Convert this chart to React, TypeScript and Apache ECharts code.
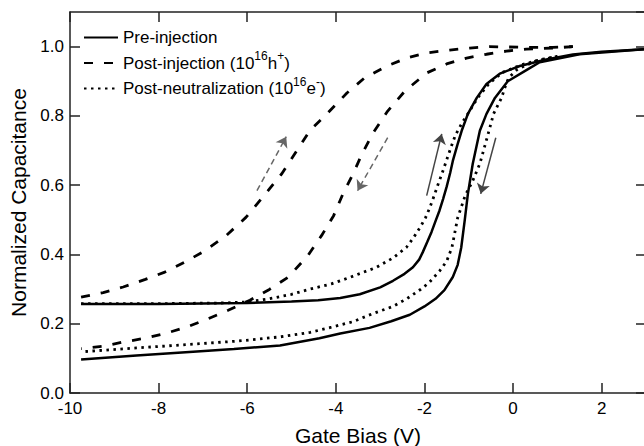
import React, { useEffect, useRef } from 'react';
import * as echarts from 'echarts';

// ---- data ----
const xTicks = { min: -10, max: 3, interval: 2 };
const yTicks = { min: 0, max: 1.1, interval: 0.2 };

const preUp: [number, number][] = [
  [-9.75, 0.257], [-8, 0.257], [-6, 0.26], [-5, 0.264], [-4.4, 0.268], [-3.9, 0.274], [-3.46, 0.285],
  [-3.0, 0.305], [-2.71, 0.324], [-2.45, 0.344], [-2.26, 0.363], [-2.12, 0.385], [-2.04, 0.406],
  [-1.94, 0.435], [-1.84, 0.465], [-1.74, 0.5], [-1.66, 0.527], [-1.58, 0.56], [-1.5, 0.595],
  [-1.42, 0.635], [-1.36, 0.67], [-1.26, 0.715], [-1.16, 0.757], [-1.02, 0.806], [-0.82, 0.852],
  [-0.6, 0.892], [-0.3, 0.922], [0.15, 0.944], [0.75, 0.963], [1.35, 0.977], [2.0, 0.985], [3.0, 0.993],
];
const preDown: [number, number][] = [
  [3.0, 0.993], [1.5, 0.978], [0.6, 0.955], [0.3, 0.932], [-0.12, 0.9], [-0.41, 0.852], [-0.6, 0.806],
  [-0.75, 0.757], [-0.91, 0.662], [-1.02, 0.575], [-1.09, 0.5], [-1.17, 0.42], [-1.25, 0.37],
  [-1.36, 0.335], [-1.55, 0.297], [-1.75, 0.272], [-2.0, 0.25], [-2.33, 0.226], [-2.75, 0.207],
  [-3.24, 0.188], [-3.9, 0.172], [-4.37, 0.158], [-5.26, 0.137], [-6.3, 0.127], [-7.22, 0.119],
  [-8.5, 0.108], [-9.75, 0.097],
];
const postUp: [number, number][] = [
  [-9.75, 0.277], [-9.25, 0.29], [-8.8, 0.306], [-8.3, 0.328], [-7.86, 0.349], [-7.41, 0.378],
  [-6.96, 0.41], [-6.47, 0.455], [-6.03, 0.507], [-5.62, 0.57], [-5.22, 0.633], [-4.93, 0.69],
  [-4.59, 0.757], [-4.2, 0.806], [-3.75, 0.866], [-3.35, 0.91], [-2.85, 0.944], [-2.4, 0.967],
  [-1.95, 0.982], [-1.43, 0.99], [-0.98, 0.996], [-0.53, 1.0], [0.3, 0.998], [0.9, 0.998], [1.35, 1.0],
];
const postDown: [number, number][] = [
  [1.35, 1.0], [0.9, 0.996], [0.3, 0.993], [-0.15, 0.987], [-0.6, 0.978], [-1.05, 0.967], [-1.5, 0.95],
  [-1.95, 0.924], [-2.44, 0.872], [-2.83, 0.814], [-3.16, 0.751], [-3.41, 0.69], [-3.61, 0.633],
  [-3.84, 0.575], [-4.05, 0.512], [-4.32, 0.455], [-4.63, 0.397], [-5.08, 0.334], [-5.5, 0.299],
  [-5.94, 0.268], [-6.43, 0.239], [-6.91, 0.213], [-7.37, 0.19], [-7.82, 0.173], [-8.31, 0.158],
  [-8.8, 0.147], [-9.25, 0.135], [-9.75, 0.128],
];
const neutUp: [number, number][] = [
  [-9.75, 0.258], [-8, 0.258], [-6.5, 0.26], [-6, 0.263], [-5.5, 0.272], [-5, 0.285], [-4.58, 0.3],
  [-4.1, 0.315], [-3.68, 0.334], [-3.08, 0.363], [-2.71, 0.39], [-2.41, 0.42], [-2.25, 0.448],
  [-2.1, 0.478], [-1.98, 0.505], [-1.88, 0.535], [-1.78, 0.57], [-1.7, 0.6], [-1.6, 0.635],
  [-1.52, 0.665], [-1.4, 0.71], [-1.3, 0.745], [-1.15, 0.78], [-1.0, 0.81], [-0.8, 0.852],
  [-0.55, 0.892], [-0.25, 0.925], [0.2, 0.948], [0.6, 0.962], [1.0, 0.972],
];
const neutDown: [number, number][] = [
  [1.0, 0.972], [0.5, 0.958], [0.1, 0.935], [-0.1, 0.91], [-0.19, 0.88], [-0.26, 0.852], [-0.44, 0.806],
  [-0.58, 0.74], [-0.75, 0.662], [-0.92, 0.61], [-1.08, 0.57], [-1.25, 0.506], [-1.38, 0.42],
  [-1.5, 0.38], [-1.66, 0.352], [-1.9, 0.318], [-2.1, 0.298], [-2.4, 0.272], [-2.71, 0.25],
  [-3.17, 0.229], [-3.61, 0.206], [-4.1, 0.19], [-4.58, 0.175], [-5.26, 0.162], [-6.2, 0.15],
  [-7.22, 0.141], [-8.5, 0.13], [-9.75, 0.119],
];
// arrows: [start, end] in data coordinates
const solidArrows: [number, number][][] = [
  [[-1.95, 0.57], [-1.61, 0.748]],
  [[-0.39, 0.737], [-0.73, 0.575]],
];
const dashedArrows: [number, number][][] = [
  [[-5.78, 0.584], [-5.12, 0.74]],
  [[-2.83, 0.737], [-3.51, 0.584]],
];
const names = ['Pre-injection', 'Post-injection', 'Post-neutralization'];
const legendLabels: Record<string, string> = {
  'Pre-injection': '{n|Pre-injection}',
  'Post-injection': '{n|Post-injection (10}{s|16}{n|h}{s|+}{n|)}',
  'Post-neutralization': '{n|Post-neutralization (10}{s|16}{n|e}{s|-}{n|)}',
};

const FONT = '"Liberation Sans", Arial, Helvetica, sans-serif';
const INK = '#000';
const FRAME = '#222';

function arrowLines(list: [number, number][][]) {
  return list.map(([a, b]) => [{ coord: a }, { coord: b }]);
}

export default function App() {
  const ref = useRef<HTMLDivElement>(null);
  useEffect(() => {
    const chart = echarts.init(ref.current!, null, { renderer: 'svg' });
    const solid = { color: '#000', width: 2.5, type: 'solid' as const };
    const dashed = { color: '#000', width: 2.8, type: [9, 11] as number[] };
    const dotted = { color: '#000', width: 2.8, type: [2.5, 4.5] as number[] };
    const baseSeries = (name: string, data: [number, number][], lineStyle: any, extra: any = {}) => ({
      type: 'line',
      name,
      data,
      symbol: 'none',
      lineStyle,
      itemStyle: { color: '#000' },
      z: 3,
      silent: true,
      ...extra,
    });
    const axisCommon = {
      axisLine: { show: true, onZero: false, lineStyle: { color: FRAME, width: 1.5 } },
      axisTick: { show: true, inside: true, length: 10, lineStyle: { color: FRAME, width: 1.5 } },
      splitLine: { show: false },
    };
    chart.setOption({
      animation: false,
      backgroundColor: '#fff',
      grid: { left: 70, top: 12, width: 576, height: 381, containLabel: false, outerBoundsMode: 'none' },
      legend: {
        data: names,
        orient: 'vertical',
        left: 83,
        top: 29,
        padding: 0,
        itemWidth: 34,
        itemHeight: 18,
        itemGap: 4,
        selectedMode: false,
        itemStyle: { color: 'transparent', borderColor: 'transparent', borderWidth: 0, opacity: 0 },
        formatter: (n: string) => legendLabels[n] || n,
        textStyle: {
          fontFamily: FONT,
          color: INK,
          fontSize: 17,
          rich: {
            n: { fontFamily: FONT, fontSize: 17, color: INK, lineHeight: 26, verticalAlign: 'middle' },
            s: { fontFamily: FONT, fontSize: 12, color: INK, lineHeight: 12, verticalAlign: 'top' },
          },
        },
      },
      xAxis: [
        {
          type: 'value',
          position: 'bottom',
          ...xTicks,
          ...axisCommon,
          axisLabel: {
            show: true, fontFamily: FONT, fontSize: 17, lineHeight: 13, color: INK, margin: 9, showMaxLabel: false,
          },
          name: 'Gate Bias (V)',
          nameLocation: 'middle',
          nameGap: 32,
          nameTextStyle: { fontFamily: FONT, fontSize: 21, color: INK },
        },
        {
          type: 'value',
          position: 'top',
          ...xTicks,
          ...axisCommon,
          axisLabel: { show: false },
        },
      ],
      yAxis: [
        {
          type: 'value',
          position: 'left',
          ...yTicks,
          ...axisCommon,
          axisLabel: {
            show: true, fontFamily: FONT, fontSize: 17, lineHeight: 13, color: INK, margin: 6, showMaxLabel: false,
            formatter: (v: number) => v.toFixed(1),
          },
          name: 'Normalized Capacitance',
          nameLocation: 'middle',
          nameGap: 33,
          nameTextStyle: { fontFamily: FONT, fontSize: 21, color: INK },
        },
        {
          type: 'value',
          position: 'right',
          ...yTicks,
          ...axisCommon,
          axisLabel: { show: false },
        },
      ],
      series: [
        baseSeries(names[0], preUp, solid, {
          markLine: {
            silent: true,
            symbol: ['none', 'arrow'],
            symbolSize: 10,
            label: { show: false },
            lineStyle: { color: '#444', width: 1.5, type: 'solid' },
            data: arrowLines(solidArrows),
          },
        }),
        baseSeries(names[0], preDown, solid),
        baseSeries(names[1], postUp, dashed, {
          markLine: {
            silent: true,
            symbol: ['none', 'arrow'],
            symbolSize: 10,
            label: { show: false },
            lineStyle: { color: '#666', width: 1.5, type: [6, 4] },
            data: arrowLines(dashedArrows),
          },
        }),
        baseSeries(names[1], postDown, dashed),
        baseSeries(names[2], neutUp, dotted),
        baseSeries(names[2], neutDown, dotted),
      ],
    });
    return () => chart.dispose();
  }, []);
  return (
    <div
      ref={ref}
      style={{ position: 'fixed', left: 0, top: 0, width: 644, height: 446, background: '#fff' }}
    />
  );
}
